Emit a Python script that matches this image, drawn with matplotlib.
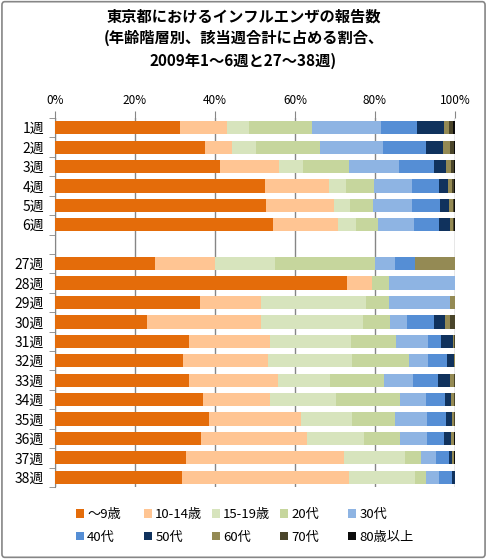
import numpy as np
import matplotlib.pyplot as plt
from matplotlib.patches import FancyBboxPatch

plt.rcParams['font.family'] = ['Noto Sans CJK JP', 'DejaVu Sans']

# week labels ('' = blank spacer row between the two periods)
weeks = ['1週', '2週', '3週', '4週', '5週', '6週', '',
         '27週', '28週', '29週', '30週', '31週', '32週',
         '33週', '34週', '35週', '36週', '37週', '38週']

groups = ['～9歳', '10-14歳', '15-19歳', '20代', '30代',
          '40代', '50代', '60代', '70代', '80歳以上']

# share (%) per age group, one value per non-blank week
age_0_9   = [31.3, 37.6, 41.3, 52.5, 52.8, 54.5, 25.0, 73.0, 36.3, 23.1, 33.6, 32.1, 33.6, 37.1, 38.6, 36.6, 32.8, 31.8]
age_10_14 = [11.8, 6.7, 14.7, 16.0, 16.9, 16.2, 15.0, 6.2, 15.2, 28.4, 20.2, 21.2, 22.2, 16.7, 22.9, 26.4, 39.4, 41.7]
age_15_19 = [5.4, 6.0, 6.0, 4.2, 4.0, 4.5, 15.0, 0.0, 26.2, 25.5, 20.2, 20.9, 12.9, 16.4, 12.7, 14.2, 15.2, 16.4]
age_20s   = [15.8, 16.0, 11.5, 7.0, 5.8, 5.5, 25.0, 4.3, 5.8, 6.7, 11.2, 14.2, 13.5, 16.0, 10.8, 9.0, 4.0, 2.8]
age_30s   = [17.2, 15.7, 12.5, 9.5, 9.7, 9.0, 5.0, 16.5, 15.2, 4.2, 8.0, 4.8, 7.2, 6.5, 7.9, 6.7, 3.8, 3.2]
age_40s   = [8.9, 10.7, 8.7, 6.7, 7.0, 6.2, 5.0, 0.0, 0.0, 6.8, 3.2, 4.7, 6.3, 4.7, 4.8, 4.3, 3.2, 3.3]
age_50s   = [6.8, 4.2, 3.0, 2.3, 2.2, 2.8, 0.0, 0.0, 0.0, 2.7, 3.0, 1.8, 3.0, 1.5, 1.5, 1.7, 0.8, 0.8]
age_60s   = [1.2, 1.8, 1.2, 1.0, 1.0, 0.7, 10.0, 0.0, 1.3, 1.3, 0.3, 0.3, 1.0, 0.8, 0.5, 0.8, 0.5, 0.0]
age_70s   = [1.0, 1.0, 0.9, 0.6, 0.4, 0.4, 0.0, 0.0, 0.0, 1.3, 0.3, 0.0, 0.3, 0.2, 0.3, 0.0, 0.0, 0.0]
age_80up  = [0.6, 0.3, 0.2, 0.2, 0.2, 0.2, 0.0, 0.0, 0.0, 0.0, 0.0, 0.0, 0.0, 0.3, 0.0, 0.3, 0.3, 0.0]

series = [age_0_9, age_10_14, age_15_19, age_20s, age_30s,
          age_40s, age_50s, age_60s, age_70s, age_80up]
colors = ['#E46C0A', '#FFC593', '#D7E4BD', '#C6D69D', '#8EB4E3',
          '#558ED5', '#10325D', '#948A54', '#4A452A', '#0C0C0C']

fig = plt.figure(figsize=(4.87, 5.59), dpi=100)
ax = fig.add_axes([55 / 487, 1 - 487 / 559, 400 / 487, 369 / 559])

pos = np.array([i for i, w in enumerate(weeks) if w != ''])
left = np.zeros(len(pos))
bars = []
for vals, col, name in zip(series, colors, groups):
    vals = np.array(vals)
    b = ax.barh(pos, vals, left=left, height=0.68, color=col, label=name, zorder=3)
    bars.append(b)
    left += vals

ax.set_xlim(0, 100)
ax.set_ylim(len(weeks) - 0.5, -0.5)
ax.set_xticks(np.arange(0, 101, 20))
ax.set_xticklabels([f'{v}%' for v in range(0, 101, 20)])
ax.xaxis.tick_top()
ax.tick_params(axis='x', length=5, color='#868686', labelsize=8.5, pad=3)
ax.grid(axis='x', color='#868686', linewidth=1, zorder=0)

ax.set_yticks(np.arange(len(weeks)))
ax.set_yticklabels(weeks)
ax.set_yticks(np.arange(-0.5, len(weeks) + 0.5, 1), minor=True)
ax.tick_params(axis='y', which='major', length=0, labelsize=10, pad=8)
ax.tick_params(axis='y', which='minor', length=4, color='#868686')

for s in ['top', 'right', 'bottom']:
    ax.spines[s].set_visible(False)
ax.spines['left'].set_color('#868686')

fig.suptitle('東京都におけるインフルエンザの報告数\n(年齢階層別、該当週合計に占める割合、\n2009年1～6週と27～38週)',
             y=0.985, fontsize=11, fontweight='bold', linespacing=1.45)

# legend: 5 evenly spaced columns, two rows
col_x = [76, 144, 212, 280, 348]
for c, x in enumerate(col_x):
    fig.legend([bars[c], bars[c + 5]], [groups[c], groups[c + 5]],
               loc='center left', bbox_to_anchor=(x / 487, 1 - 526 / 559),
               frameon=False, fontsize=9.5, handlelength=0.6, handleheight=0.6,
               handletextpad=0.25, labelspacing=0.75, borderpad=0,
               borderaxespad=0)

fig.patches.append(FancyBboxPatch((0.004, 0.003), 0.992, 0.994,
                                  boxstyle='round,pad=0,rounding_size=0.006',
                                  transform=fig.transFigure, fill=False,
                                  edgecolor='#868686', linewidth=1.2))

fig.savefig('out.png', dpi=100)
